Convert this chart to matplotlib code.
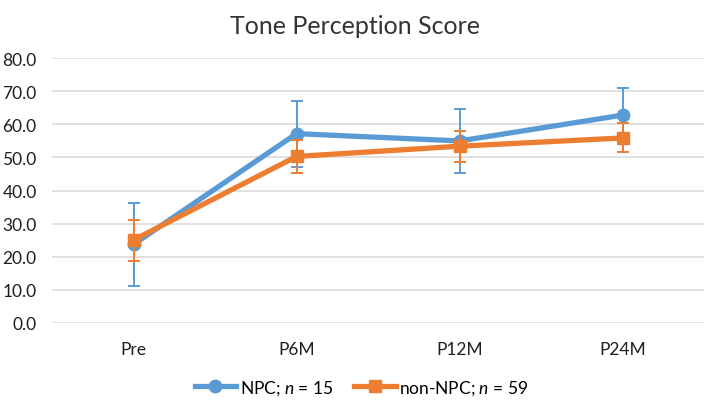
import matplotlib.pyplot as plt
from matplotlib.lines import Line2D
import numpy as np

plt.rcParams['font.family'] = ['Lato', 'DejaVu Sans']
plt.rcParams['mathtext.fontset'] = 'custom'
plt.rcParams['mathtext.it'] = 'Lato:italic'
plt.rcParams['mathtext.rm'] = 'Lato'

categories = ["Pre", "P6M", "P12M", "P24M"]
npc_mean = [23.7, 57.2, 55.0, 62.8]
npc_err = [12.5, 10.0, 9.6, 8.2]
non_npc_mean = [25.0, 50.3, 53.4, 55.9]
non_npc_err = [6.2, 5.0, 4.7, 4.4]

blue = "#5B9BD5"
orange = "#ED7D31"

fig = plt.figure(figsize=(7.09, 4.10), dpi=100)
ax = fig.add_axes([52 / 709, 1 - 323.7 / 410, 652 / 709, 264.4 / 410])

x = np.arange(len(categories))
ax.errorbar(x, npc_mean, yerr=npc_err, color=blue, lw=3.8, marker='o', ms=9,
            ecolor=blue, elinewidth=1.4, capsize=4, capthick=1.4, zorder=3)
ax.errorbar(x, non_npc_mean, yerr=non_npc_err, color=orange, lw=3.8, marker='s', ms=9,
            ecolor=orange, elinewidth=1.4, capsize=4, capthick=1.4, zorder=4)

ax.set_xlim(-0.5, 3.5)
ax.set_ylim(0, 80)
ax.set_yticks(np.arange(0, 81, 10))
ax.set_yticklabels([f"{v:.1f}" for v in np.arange(0, 81, 10)])
ax.set_xticks(x)
ax.set_xticklabels(categories)
ax.tick_params(axis='both', length=0, labelsize=12.5, labelcolor="#1f1f1f")
ax.tick_params(axis='y', pad=11)
ax.tick_params(axis='x', pad=13)
ax.grid(axis='y', color="#D9D9D9", lw=1.1)
ax.set_axisbelow(True)
for s in ax.spines.values():
    s.set_visible(False)

fig.text(0.5, 0.935, "Tone Perception Score", ha='center', va='center',
         fontsize=18, color="#333333")

handles = [
    Line2D([], [], color=blue, lw=3.8, marker='o', ms=9),
    Line2D([], [], color=orange, lw=3.8, marker='s', ms=9),
]
labels = [r"NPC; $\it{n}$ = 15", r"non-NPC; $\it{n}$ = 59"]
fig.legend(handles, labels, loc='center', bbox_to_anchor=(0.51, 0.053), ncol=2,
           frameon=False, fontsize=12.5, handlelength=2.4, columnspacing=1.2,
           handletextpad=0.2)

fig.savefig("out.png", dpi=100)
